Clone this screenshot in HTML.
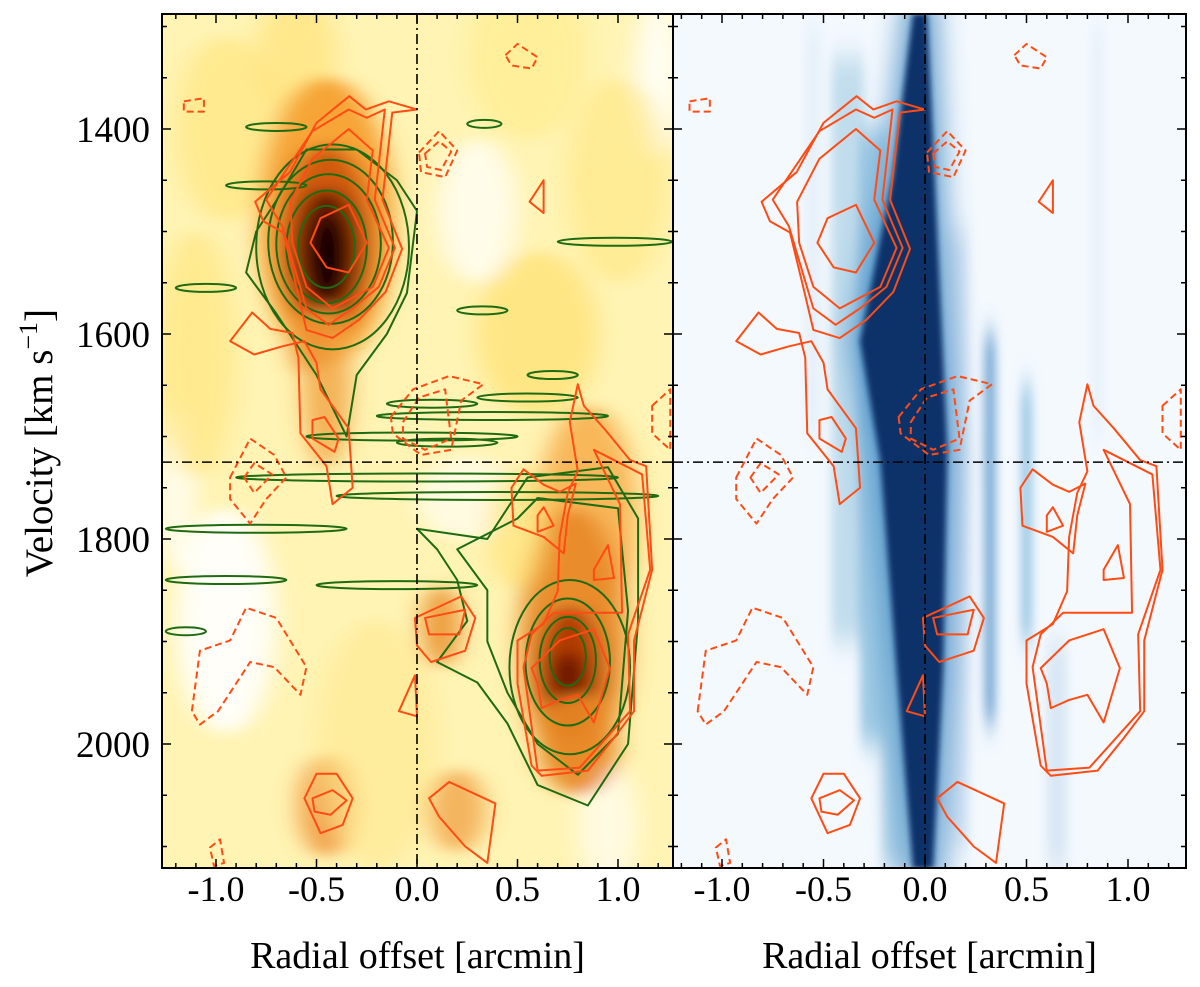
<!DOCTYPE html>
<html><head><meta charset="utf-8">
<style>
html,body{margin:0;padding:0;background:#fff;}
svg{display:block;font-family:"Liberation Serif",serif;}
</style></head>
<body>
<svg id="fig" width="1200" height="987" viewBox="0 0 1200 987" xmlns="http://www.w3.org/2000/svg">
<defs>
<filter id="blurL" x="-50%" y="-50%" width="200%" height="200%"><feGaussianBlur stdDeviation="12 6"/></filter>
<filter id="blurS" x="-50%" y="-50%" width="200%" height="200%"><feGaussianBlur stdDeviation="14 8"/></filter>
<filter id="blurV" x="-50%" y="-50%" width="200%" height="200%"><feGaussianBlur stdDeviation="5 14"/></filter>
<filter id="blurB" x="-50%" y="-50%" width="200%" height="200%"><feGaussianBlur stdDeviation="3 2"/></filter>
<clipPath id="clipL"><rect x="162" y="14" width="511" height="854"/></clipPath>
<clipPath id="clipR"><rect x="673" y="14" width="513" height="854"/></clipPath>
</defs>
<g id="left" clip-path="url(#clipL)"></g>
<g id="right" clip-path="url(#clipR)"></g>
<g id="axes"></g>
</svg>
<script>
// ---- data ----
const xTicks = [-1.0, -0.5, 0.0, 0.5, 1.0];
const xTickLabels = ["-1.0", "-0.5", "0.0", "0.5", "1.0"];
const yTicks = [1400, 1600, 1800, 2000];
const yTickLabels = ["1400", "1600", "1800", "2000"];
const systemicVelocity = 1725;
const centerOffset = 0.0;
// heatmap blobs (left, moment image): [offset, velocity, rOffset, rVel, color, opacity]
const leftBlobs = [
 [-0.95,1880,0.25,110,"#ffffff",0.9],[0.3,1480,0.2,70,"#ffffff",0.7],[0.25,1760,0.25,40,"#ffffff",0.6],
 [1.2,1350,0.12,80,"#ffffff",0.8],[-1.2,1750,0.1,80,"#ffffff",0.7],[0.95,2080,0.15,60,"#ffffff",0.6],
 [-0.95,1400,0.25,90,"#ffe680",0.7],[-0.6,1330,0.2,60,"#ffe070",0.6],[0.55,1330,0.3,80,"#ffec90",0.7],
 [1.0,1450,0.25,100,"#ffe680",0.6],[-1.1,1620,0.2,120,"#ffe680",0.7],[0.6,1600,0.3,80,"#ffe070",0.7],
 [-0.45,1490,0.34,140,"#f5a030",0.95],[-0.45,1510,0.24,95,"#d05a0c",1],[-0.45,1520,0.16,62,"#5a1400",1],
 [-0.44,1525,0.1,40,"#0a0000",1],[-0.45,1650,0.12,80,"#f0a040",0.8],[-0.55,1610,0.08,30,"#ee9030",0.8],
 [0.85,1780,0.25,110,"#f7b050",0.9],[0.78,1900,0.27,130,"#e88a28",0.95],[0.76,1930,0.16,65,"#b03a06",1],
 [0.75,1935,0.08,25,"#600c00",1],[0.8,2000,0.2,50,"#e88a28",0.9],[0.12,1885,0.1,40,"#eb9535",0.9],
 [-0.45,2060,0.14,50,"#ef9a40",0.9],[0.2,2065,0.14,40,"#f2a850",0.85],
 [-0.2,2000,0.3,120,"#ffe890",0.6],[0.5,1790,0.15,60,"#ffe070",0.6]
];
// right panel streaks: [offset, vTop, vBottom, width, color, opacity]
const rightStreaks = [
 [-0.38,1330,1900,0.16,"#9ecae1",0.6],[-0.25,1400,2000,0.14,"#6baed6",0.6],[0.32,1600,1980,0.05,"#4a8cc4",0.8],
 [0.5,1650,1900,0.05,"#6baed6",0.7],[0.15,1500,2100,0.12,"#c6dbef",0.7],[0.65,1900,2120,0.1,"#c6dbef",0.6],
 [-0.15,1800,2120,0.12,"#9ecae1",0.7],[0.85,1300,1700,0.05,"#deebf7",0.6],[-0.55,1300,1700,0.08,"#deebf7",0.6]
];
const bandLeft = [[-0.06,1288],[-0.16,1447],[-0.32,1607],[-0.22,1724],[-0.14,1926],[-0.06,2121]];
const bandRight = [[0.01,1288],[0.06,1500],[0.11,1713],[0.09,1926],[0.04,2121]];
// orange contours (solid)
const orangeSolid = [
 [[-0.805,1471],[-0.632,1442],[-0.5,1394],[-0.337,1368],[-0.255,1381],[-0.14,1373],[0,1381],[-0.123,1384],[-0.172,1469],[-0.074,1517],[-0.156,1559],[-0.288,1586],[-0.42,1604],[-0.55,1596],[-0.6,1554],[-0.665,1501],[-0.764,1490]],
 [[-0.75,1469],[-0.52,1402],[-0.34,1381],[-0.25,1389],[-0.16,1381],[-0.21,1469],[-0.11,1516],[-0.19,1554],[-0.32,1575],[-0.44,1591],[-0.55,1575],[-0.63,1522],[-0.67,1495]],
 [[-0.63,1471],[-0.52,1429],[-0.34,1400],[-0.22,1421],[-0.25,1469],[-0.14,1516],[-0.22,1554],[-0.42,1575],[-0.55,1554],[-0.62,1511]],
 [[-0.53,1511],[-0.48,1487],[-0.34,1474],[-0.25,1511],[-0.34,1540],[-0.45,1535]],
 [[-0.93,1607],[-0.82,1579],[-0.73,1595],[-0.62,1599],[-0.59,1623],[-0.58,1697],[-0.45,1729],[-0.42,1766],[-0.32,1750],[-0.34,1692],[-0.48,1654],[-0.5,1628],[-0.56,1607],[-0.67,1612],[-0.81,1620]],
 [[-0.52,1684],[-0.46,1681],[-0.39,1702],[-0.41,1715],[-0.52,1702]],
 [[0.8,1649],[0.83,1670],[0.93,1692],[1.06,1723],[1.14,1729],[1.17,1830],[1.08,1899],[1.08,1968],[0.98,1994],[0.85,2026],[0.62,2031],[0.57,2021],[0.5,1941],[0.5,1899],[0.63,1883],[0.7,1851],[0.71,1798],[0.75,1755],[0.8,1734],[0.76,1686]],
 [[0.88,1713],[1.12,1737],[1.16,1830],[1.05,1893],[1.06,1968],[0.81,2023],[0.6,2026],[0.53,1925],[0.57,1893],[0.68,1872],[1.02,1872],[1.01,1766]],
 [[0.57,1926],[0.71,1899],[0.88,1888],[0.96,1926],[0.88,1979],[0.8,1952],[0.71,1957],[0.62,1965],[0.6,1941]],
 [[0.47,1750],[0.53,1732],[0.63,1747],[0.71,1754],[0.79,1746],[0.75,1777],[0.73,1814],[0.63,1798],[0.48,1787]],
 [[0.6,1777],[0.63,1769],[0.68,1787],[0.6,1793]],
 [[0.88,1830],[0.95,1806],[0.98,1838],[0.88,1840]],
 [[-0.01,1877],[0.22,1856],[0.29,1877],[0.24,1909],[0.07,1920],[0,1904]],
 [[0.04,1877],[0.24,1869],[0.21,1893],[0.06,1893]],
 [[-0.56,2053],[-0.5,2029],[-0.4,2029],[-0.32,2053],[-0.37,2079],[-0.48,2087]],
 [[-0.52,2053],[-0.42,2045],[-0.35,2055],[-0.43,2069],[-0.51,2066]],
 [[0.06,2053],[0.16,2037],[0.39,2058],[0.35,2116],[0.24,2100],[0.11,2071]],
 [[-0.09,1968],[-0.01,1933],[0,1973]],
 [[0.56,1471],[0.63,1450],[0.63,1482]]
];
const orangeDashed = [
 [[0.44,1328],[0.5,1317],[0.6,1330],[0.57,1341],[0.47,1338]],
 [[-1.16,1373],[-1.06,1370],[-1.06,1383],[-1.16,1383]],
 [[0.01,1423],[0.11,1402],[0.2,1421],[0.14,1447],[0.02,1442]],
 [[0.04,1424],[0.11,1412],[0.17,1422],[0.12,1440],[0.05,1437]],
 [[-0.13,1681],[-0.02,1654],[0.16,1641],[0.33,1649],[0.22,1665],[0.17,1713],[0.02,1718],[-0.12,1697]],
 [[-0.07,1686],[0.01,1662],[0.14,1654],[0.17,1702],[0.04,1713],[-0.07,1702]],
 [[-0.93,1740],[-0.83,1702],[-0.71,1718],[-0.65,1740],[-0.75,1761],[-0.83,1785],[-0.93,1761]],
 [[-0.86,1740],[-0.81,1726],[-0.72,1737],[-0.81,1755]],
 [[-1.12,1968],[-1.08,1909],[-0.93,1899],[-0.85,1867],[-0.7,1877],[-0.55,1925],[-0.58,1952],[-0.71,1925],[-0.83,1920],[-0.99,1968],[-1.08,1981]],
 [[1.17,1670],[1.26,1654],[1.26,1713],[1.17,1697]],
 [[-1.03,2101],[-0.98,2093],[-0.96,2116],[-1.01,2119]]
];
// green contours (left panel only)
const greenRings = [[-0.45,1515,0.14,40],[-0.45,1515,0.2,55],[-0.44,1512,0.26,68],[-0.43,1510,0.31,80],[-0.42,1515,0.38,100],
 [0.75,1915,0.09,28],[0.75,1918,0.14,42],[0.75,1920,0.21,62],[0.76,1925,0.3,85]];
const greenStreaks = [
 [[-0.15,1668],[0.3,1668]],[[-0.55,1700],[0.5,1700]],[[-0.1,1706],[0.4,1706]],[[0.3,1662],[0.8,1662]],
 [[-0.2,1680],[0.95,1680]],[[-0.9,1740],[1.0,1740]],[[-0.4,1758],[1.2,1758]],[[-1.25,1790],[-0.35,1790]],
 [[-1.25,1840],[-0.65,1840]],[[-0.5,1845],[0.3,1845]],[[-0.55,1398],[-0.85,1398]],[[0.25,1395],[0.42,1395]],
 [[0.7,1510],[1.27,1510]],[[0.2,1577],[0.45,1577]],[[0.55,1640],[0.8,1640]],[[-1.25,1890],[-1.05,1890]],
 [[-0.95,1455],[-0.55,1455]],[[-1.2,1555],[-0.9,1555]]
];
const greenLobes = [
 [[0.0,1790],[0.35,1800],[0.55,1740],[0.95,1730],[1.1,1780],[1.1,1880],[1.05,2000],[0.85,2060],[0.6,2040],[0.45,1980],[0.3,1940],[0.1,1920],[0.25,1880],[0.2,1840],[0.1,1810]],
 [[0.2,1810],[0.5,1780],[0.6,1760],[1.0,1770],[1.05,1870],[1.0,1990],[0.8,2030],[0.6,2000],[0.45,1950],[0.35,1900],[0.35,1850]],
 [[-0.7,1470],[-0.55,1420],[-0.3,1420],[-0.1,1450],[0,1480],[-0.05,1560],[-0.15,1600],[-0.3,1640],[-0.35,1700],[-0.5,1640],[-0.7,1580],[-0.85,1540],[-0.8,1500]]
];

// ---- scales ----
const xL = d => 417 + d * 201;
const xR = d => 925 + d * 203;
const yS = v => 129 + (v - 1400) * 1.025;
const NS = "http://www.w3.org/2000/svg";
function mk(tag, attrs, parent) {
  const e = document.createElementNS(NS, tag);
  for (const k in attrs) e.setAttribute(k, attrs[k]);
  parent.appendChild(e);
  return e;
}
const L = document.getElementById('left');
const R = document.getElementById('right');
const A = document.getElementById('axes');

let bg = mk('rect', {x:162,y:14,width:511,height:854,fill:'#fff4b4'}, L);


const gl = mk('g', {filter:'url(#blurL)'}, L);
leftBlobs.forEach((b, i) => {
  const e = mk('ellipse', {cx:xL(b[0]), cy:yS(b[1]), rx:b[2]*201, ry:b[3]*1.025, fill:b[4], opacity:b[5]}, gl);
  
  
});

let bgr = mk('rect', {x:673,y:14,width:513,height:854,fill:'#f4f9fe'}, R);


const gs = mk('g', {filter:'url(#blurV)'}, R);
rightStreaks.forEach(s => {
  const e = mk('rect', {x:xR(s[0]-s[3]/2), y:yS(s[1]), width:s[3]*203, height:yS(s[2])-yS(s[1]), fill:s[4], opacity:s[5]}, gs);
  
  
});
const bandPts = bandLeft.concat(bandRight.slice().reverse()).map(p => xR(p[0]) + ',' + yS(p[1])).join(' ');
const halo = mk('polygon', {points:bandPts, fill:'#3a85c0', opacity:0.8, filter:'url(#blurS)', stroke:'#3a85c0', 'stroke-width':18}, R);


const band = mk('polygon', {points:bandPts, fill:'#08306b', filter:'url(#blurB)'}, R);



function drawContours(parent, list, xs, attrs, name) {
  list.forEach(c => {
    const e = mk('polygon', Object.assign({points:c.map(p => xs(p[0]) + ',' + yS(p[1])).join(' '), fill:'none', 'stroke-linejoin':'round'}, attrs), parent);
    
    
  });
}
const gg = mk('g', {}, L);
greenRings.forEach(r => {
  const e = mk('ellipse', {cx:xL(r[0]), cy:yS(r[1]), rx:r[2]*201, ry:r[3]*1.025, fill:'none', stroke:'#1e6b12', 'stroke-width':2}, gg);
  
  
});
greenStreaks.forEach(s => {
  const cx = (xL(s[0][0]) + xL(s[1][0])) / 2, rx = Math.abs(xL(s[1][0]) - xL(s[0][0])) / 2;
  const e = mk('ellipse', {cx:cx, cy:yS(s[0][1]), rx:rx, ry:4, fill:'none', stroke:'#1e6b12', 'stroke-width':2}, gg);
  
  
});
drawContours(gg, greenLobes, xL, {stroke:'#1e6b12', 'stroke-width':2}, 'green-contour');
[[L, xL], [R, xR]].forEach(([g, xs]) => {
  drawContours(g, orangeSolid, xs, {stroke:'#ff4b14', 'stroke-width':2}, 'orange-contour');
  drawContours(g, orangeDashed, xs, {stroke:'#ff4b14', 'stroke-width':2, 'stroke-dasharray':'7,4'}, 'orange-contour-negative');
});

[[L, xL, 162, 673], [R, xR, 673, 1186]].forEach(([g, xs, x0, x1]) => {
  const v = mk('line', {x1:xs(centerOffset), x2:xs(centerOffset), y1:14, y2:868, stroke:'#000', 'stroke-width':1.6, 'stroke-dasharray':'10,4,2,4'}, g);
  
  
  const h = mk('line', {x1:x0, x2:x1, y1:yS(systemicVelocity), y2:yS(systemicVelocity), stroke:'#000', 'stroke-width':1.6, 'stroke-dasharray':'10,4,2,4'}, g);
  
  
});

[[xL, 162, 673, 'left'], [xR, 673, 1186, 'right']].forEach(([xs, x0, x1, nm]) => {
  const f = mk('rect', {x:x0, y:14, width:x1-x0, height:854, fill:'none', stroke:'#000', 'stroke-width':2}, A);
  
  
  for (let t = -1.2; t <= 1.3001; t += 0.1) {
    const px = xs(Math.round(t*10)/10);
    if (px < x0 + 1 || px > x1 - 1) continue;
    const major = Math.abs(Math.round(t*10) % 5) === 0;
    const len = major ? 9 : 5;
    const a = mk('line', {x1:px, x2:px, y1:868, y2:868-len, stroke:'#000', 'stroke-width':1.5}, A);
    
    
    const b = mk('line', {x1:px, x2:px, y1:14, y2:14+len, stroke:'#000', 'stroke-width':1.5}, A);
    
    
  }
  xTicks.forEach((t, i) => {
    const tx = mk('text', {x:xs(t), y:901, 'font-size':36, 'text-anchor':'middle', fill:'#000'}, A);
    tx.textContent = xTickLabels[i];
    
    
  });
  for (let v = 1300; v <= 2100; v += 50) {
    const py = yS(v);
    const major = v % 200 === 0;
    const len = major ? 9 : 5;
    const a = mk('line', {x1:x0, x2:x0+len, y1:py, y2:py, stroke:'#000', 'stroke-width':1.5}, A);
    
    
    const b = mk('line', {x1:x1, x2:x1-len, y1:py, y2:py, stroke:'#000', 'stroke-width':1.5}, A);
    
    
  }
  const xt = mk('text', {x:(x0+x1)/2, y:968, 'font-size':38, 'text-anchor':'middle', fill:'#000'}, A);
  xt.textContent = 'Radial offset [arcmin]';
  
  
});
yTicks.forEach((v, i) => {
  const t = mk('text', {x:150, y:yS(v)+13, 'font-size':37, 'text-anchor':'end', fill:'#000'}, A);
  t.textContent = yTickLabels[i];
  
  
});
const yt = mk('text', {x:0, y:0, 'font-size':39, 'text-anchor':'middle', fill:'#000', transform:'translate(52,443) rotate(-90)'}, A);
yt.innerHTML = 'Velocity [km s<tspan dy="-15" font-size="26">−1</tspan><tspan dy="15">]</tspan>';


</script>
</body></html>
